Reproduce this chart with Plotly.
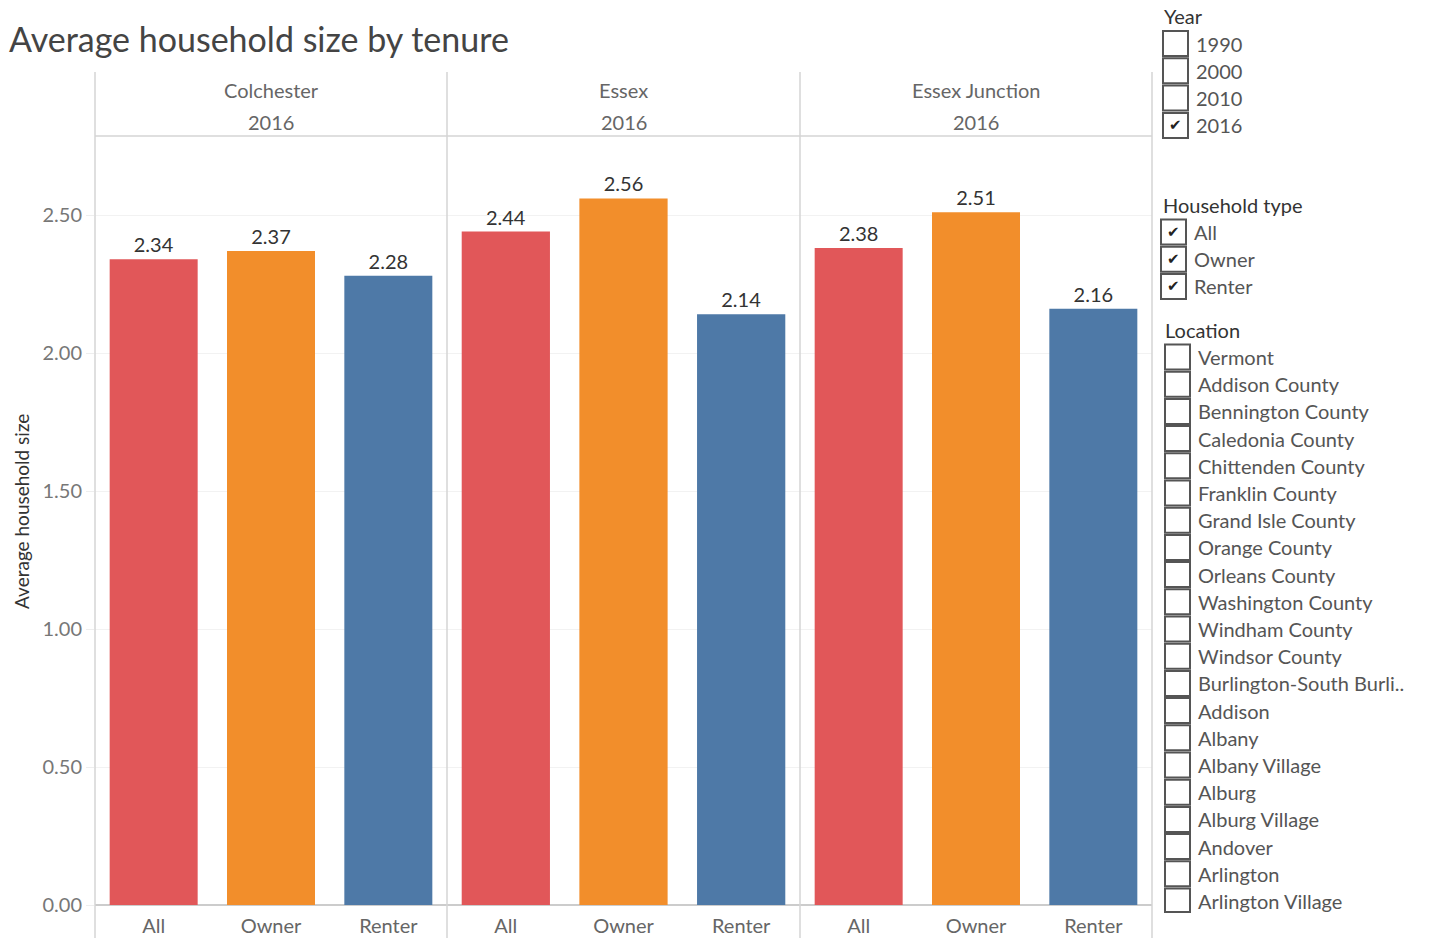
import plotly.graph_objects as go

# ---------------- data ----------------
locations = ["Colchester", "Essex", "Essex Junction"]
panel_year = "2016"
household_types = ["All", "Owner", "Renter"]
colchester_values = [2.34, 2.37, 2.28]
essex_values = [2.44, 2.56, 2.14]
essex_junction_values = [2.38, 2.51, 2.16]
type_colors = ["#E15759", "#F28E2B", "#4E79A7"]
y_ticks = [0.0, 0.5, 1.0, 1.5, 2.0, 2.5]

year_options = ["1990", "2000", "2010", "2016"]
year_checked = [False, False, False, True]
type_checked = [True, True, True]
location_options = ["Vermont", "Addison County", "Bennington County", "Caledonia County",
                    "Chittenden County", "Franklin County", "Grand Isle County", "Orange County",
                    "Orleans County", "Washington County", "Windham County", "Windsor County",
                    "Burlington-South Burli..", "Addison", "Albany", "Albany Village", "Alburg",
                    "Alburg Village", "Andover", "Arlington", "Arlington Village"]

all_values = [colchester_values, essex_values, essex_junction_values]

# ---------------- layout helpers ----------------
W, H = 1429, 938
FONT = "Lato"
def X(px):
    return px / W
def Y(py):
    return 1 - py / H

panel_edges = [95, 447, 800, 1152]
plot_top, plot_bottom = 136, 905
y_max = (plot_bottom - plot_top) / 276.0

fig = go.Figure()
shapes = []
annotations = []

def note(px, py, text, size, color, xanchor="center", angle=0, family=FONT):
    annotations.append(dict(x=X(px), y=Y(py), xref="paper", yref="paper", text=text,
                            xanchor=xanchor, yanchor="middle", showarrow=False,
                            textangle=angle, font=dict(family=family, size=size, color=color)))

for i, (loc, vals) in enumerate(zip(locations, all_values)):
    xa = "x" if i == 0 else f"x{i+1}"
    ya = "y" if i == 0 else f"y{i+1}"
    fig.add_trace(go.Bar(
        x=household_types, y=vals, xaxis=xa, yaxis=ya,
        marker=dict(color=type_colors, line=dict(width=0)),
        text=[f"{v:.2f}" for v in vals], textposition="outside",
        textfont=dict(family=FONT, size=20, color="#333333"),
        cliponaxis=False, showlegend=False, hoverinfo="x+y",
    ))
    xkey = "xaxis" if i == 0 else f"xaxis{i+1}"
    ykey = "yaxis" if i == 0 else f"yaxis{i+1}"
    fig.layout[xkey] = dict(
        domain=[X(panel_edges[i]), X(panel_edges[i + 1])],
        anchor=ya, showgrid=False, showline=False, zeroline=False,
        tickfont=dict(family=FONT, size=20, color="#666666"),
        ticks="", ticklabelstandoff=7, fixedrange=True, automargin=False,
    )
    fig.layout[ykey] = dict(
        domain=[Y(plot_bottom), Y(plot_top)], range=[0, y_max],
        anchor=xa, automargin=False,
        showticklabels=(i == 0), tickvals=y_ticks, tickformat=".2f",
        ticks="outside" if i == 0 else "", ticklen=8, tickcolor="#eeeeee",
        tickfont=dict(family=FONT, size=20, color="#777777"),
        showgrid=True, gridcolor="#f2f2f2", gridwidth=1,
        zeroline=True, zerolinecolor="#cccccc", zerolinewidth=1.5,
        showline=False, fixedrange=True,
        **({} if i == 0 else {"matches": "y"}),
    )
    cx = (panel_edges[i] + panel_edges[i + 1]) / 2
    note(cx, 90, loc, 20, "#666666")
    note(cx, 122, panel_year, 20, "#666666")

# panel borders
for e in panel_edges:
    shapes.append(dict(type="line", xref="paper", yref="paper", x0=X(e), x1=X(e),
                       y0=Y(72), y1=Y(938), line=dict(color="#d4d4d4", width=1.5)))
shapes.append(dict(type="line", xref="paper", yref="paper", x0=X(95), x1=X(1152),
                   y0=Y(plot_top), y1=Y(plot_top), line=dict(color="#d4d4d4", width=1.5)))

# title and y-axis title
note(7, 38, "Average household size by tenure", 34, "#444444", xanchor="left")
note(21, 512, "Average household size", 19, "#333333", angle=-90)

# ---------------- filter panels (checkbox lists) ----------------
def filter_list(title, title_x, title_y, box_x, first_y, step, items, checked, clip=None):
    note(title_x, title_y, title, 20, "#333333", xanchor="left")
    for k, (txt, chk) in enumerate(zip(items, checked)):
        cy = first_y + k * step
        y0 = cy - 12.5
        y1 = cy + 12.5
        if clip is not None:
            y1 = min(y1, clip)
        shapes.append(dict(type="rect", xref="paper", yref="paper",
                           x0=X(box_x), x1=X(box_x + 25), y0=Y(y0), y1=Y(y1),
                           line=dict(color="#555555", width=2), fillcolor="rgba(0,0,0,0)"))
        note(box_x + 31, cy, txt, 20, "#555555", xanchor="left")
        if chk:
            note(box_x + 12.5, cy, "✔", 15, "#222222", family="DejaVu Sans")

filter_list("Year", 1162, 16, 1163, 43.5, 27.3, year_options, year_checked)
filter_list("Household type", 1161, 205, 1161, 232, 27.2, household_types, type_checked)
filter_list("Location", 1163, 330, 1165, 357, 27.2, location_options,
            [False] * len(location_options), clip=912)

fig.update_layout(
    width=W, height=H, margin=dict(l=0, r=0, t=0, b=0, autoexpand=False),
    paper_bgcolor="white", plot_bgcolor="white",
    bargap=0.25, shapes=shapes, annotations=annotations,
    font=dict(family=FONT),
)

fig.write_html("out.html", config={"displayModeBar": False},
               post_script="document.body.style.margin='0';document.body.style.overflow='hidden';")
